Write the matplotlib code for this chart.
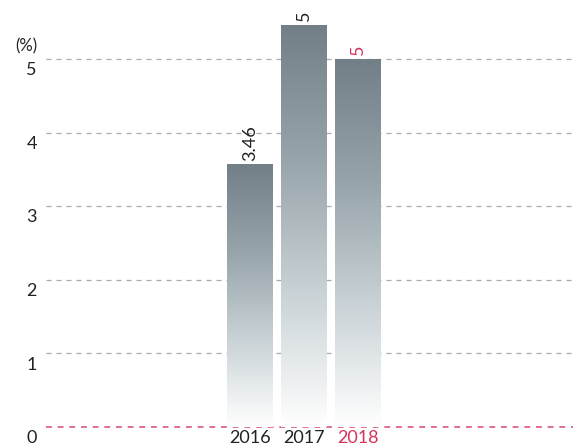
"""
    Bar chart with gradient bars
"""

import numpy as np
import matplotlib
matplotlib.use('Agg')
import matplotlib.pyplot as plt
from matplotlib.colors import LinearSegmentedColormap

years = ['2016', '2017', '2018']
values = [3.56, 5.46, 5.0]
value_labels = ['3.46', '5.46', '5']
label_colors = ['#222222', '#222222', '#d6335a']
yticks = [0, 1, 2, 3, 4, 5]

plt.rcParams['font.family'] = ['Lato', 'DejaVu Sans']

fig = plt.figure(figsize=(5.73, 4.46), dpi=100)
ax = fig.add_axes([46 / 573, 0, 1 - 46 / 573, 1 - 13 / 446])

px = 73.6
ax.axis('off')

# grid lines
for v in yticks[1:]:
    ax.axhline(v, color='#aaaaaa', lw=0.9, ls=(0, (4, 4)), zorder=1)
ax.axhline(0, color='#d9577b', lw=1.2, ls=(0, (3.5, 3.5)), zorder=1)

cmap = LinearSegmentedColormap.from_list('bar', ['#ffffff', '#c9d2d6', '#97a4aa', '#737f87'])
grad = np.linspace(0, 1, 256).reshape(-1, 1)
width = 46 / 54

for i, (v, lab, c) in enumerate(zip(values, value_labels, label_colors)):
    ax.imshow(grad, cmap=cmap, origin='lower', aspect='auto',
              extent=(i - width / 2, i + width / 2, 0, v), zorder=2)
    ax.annotate(lab, (i, v), xytext=(0, 3), textcoords='offset points',
                rotation=90, ha='center', va='bottom', fontsize=13,
                color=c, clip_on=True, zorder=3)
    ax.annotate(years[i], (i, 0), xytext=(0, -8), textcoords='offset points',
                ha='center', va='center', fontsize=13, color=c,
                annotation_clip=False)

ax.set_xlim(-204 / 54, 323 / 54)
ax.set_ylim(-19 / px, (427 - 13) / px)

tr = ax.get_yaxis_transform()
for v in yticks:
    ax.annotate(str(v), (0, v), xycoords=tr, xytext=(-6.5, -8),
                textcoords='offset points', ha='right', va='center',
                fontsize=13, color='#222222', annotation_clip=False)
fig.text(37 / 573, 1 - 46 / 446, '(%)', ha='right', va='center',
         fontsize=12, color='#222222')

fig.savefig('out.png', dpi=100)
